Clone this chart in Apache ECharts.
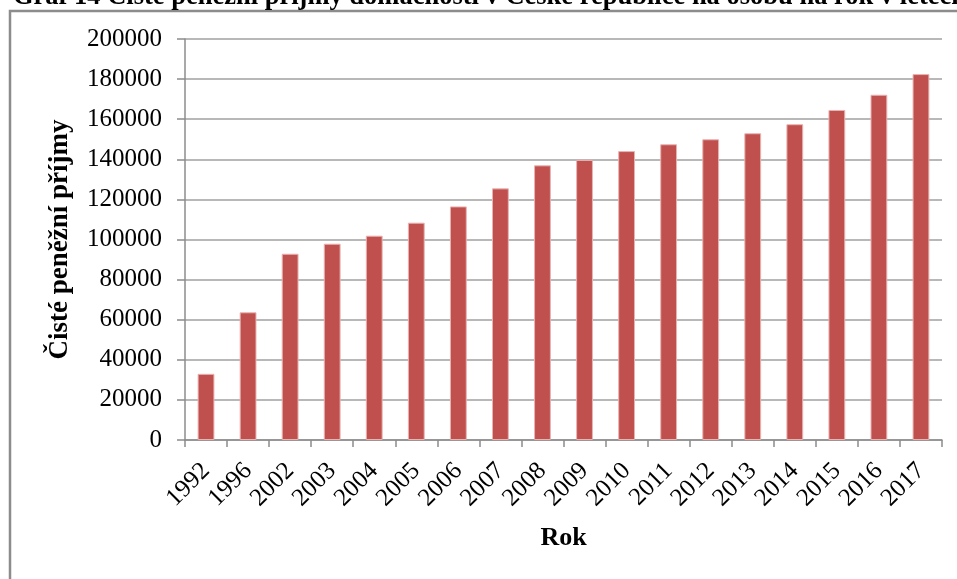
<!DOCTYPE html>
<html>
<head>
<meta charset="utf-8">
<script src="https://cdn.jsdelivr.net/npm/echarts@6/dist/echarts.min.js"></script>
<style>
  html, body { margin: 0; padding: 0; background: #fff; }
  #chart { width: 957px; height: 579px; }
</style>
</head>
<body>
<div id="chart"></div>
<script>
// Net money income of households per person per year
const years = ['1992', '1996', '2002', '2003', '2004', '2005', '2006', '2007', '2008',
  '2009', '2010', '2011', '2012', '2013', '2014', '2015', '2016', '2017'];
const income = [33000, 63700, 92900, 97900, 101900, 108400, 116500, 125500, 137000,
  139700, 144100, 147500, 150000, 153000, 157500, 164600, 172200, 182500];
const yTicks = { min: 0, max: 200000, step: 20000 };

const serif = '"Liberation Serif", "Times New Roman", serif';
const titleText = 'Graf 14 Čisté peněžní příjmy domácností v České republice na osobu na rok v letech 1992–2017';

const chart = echarts.init(document.getElementById('chart'), null, { renderer: 'canvas' });
chart.setOption({
  backgroundColor: '#ffffff',
  animation: false,
  graphic: [
    {
      type: 'rect',
      shape: { x: 10, y: 11, width: 1200, height: 1000 },
      style: { fill: 'none', stroke: '#8c8c8c', lineWidth: 2.5 },
      z: 0
    },
    {
      type: 'text',
      x: 13, y: -3,
      style: {
        text: titleText,
        font: 'bold 26.5px ' + serif,
        fill: '#000',
        verticalAlign: 'middle'
      },
      z: 10
    }
  ],
  grid: { left: 185, right: 15, top: 39, bottom: 139, containLabel: false },
  xAxis: {
    type: 'category',
    data: years,
    name: 'Rok',
    nameLocation: 'middle',
    nameGap: 85,
    nameTextStyle: { fontFamily: serif, fontSize: 26, fontWeight: 'bold', color: '#000' },
    axisLine: { lineStyle: { color: '#8c8c8c', width: 1.5 } },
    axisTick: { show: true, length: 7, alignWithLabel: false, lineStyle: { color: '#8c8c8c', width: 1.5 } },
    axisLabel: { interval: 0, rotate: 45, margin: 27, fontFamily: serif, fontSize: 25, color: '#000' },
    splitLine: { show: false }
  },
  yAxis: {
    type: 'value',
    min: yTicks.min,
    max: yTicks.max,
    interval: yTicks.step,
    name: 'Čisté peněžní příjmy',
    nameLocation: 'middle',
    nameRotate: 90,
    nameGap: 111,
    nameTextStyle: { fontFamily: serif, fontSize: 27, fontWeight: 'bold', color: '#000' },
    axisLine: { show: true, lineStyle: { color: '#8c8c8c', width: 1.5 } },
    axisTick: { show: true, length: 8, lineStyle: { color: '#8c8c8c', width: 1.5 } },
    axisLabel: {
      margin: 23, fontFamily: serif, fontSize: 25, color: '#000',
      formatter: v => String(v)
    },
    splitLine: { show: true, lineStyle: { color: '#a0a0a0', width: 1.5 } }
  },
  series: [{
    type: 'bar',
    data: income,
    barWidth: '40%',
    itemStyle: { color: '#c0504d', borderColor: '#e9b3b2', borderWidth: 1 }
  }]
});
</script>
</body>
</html>
